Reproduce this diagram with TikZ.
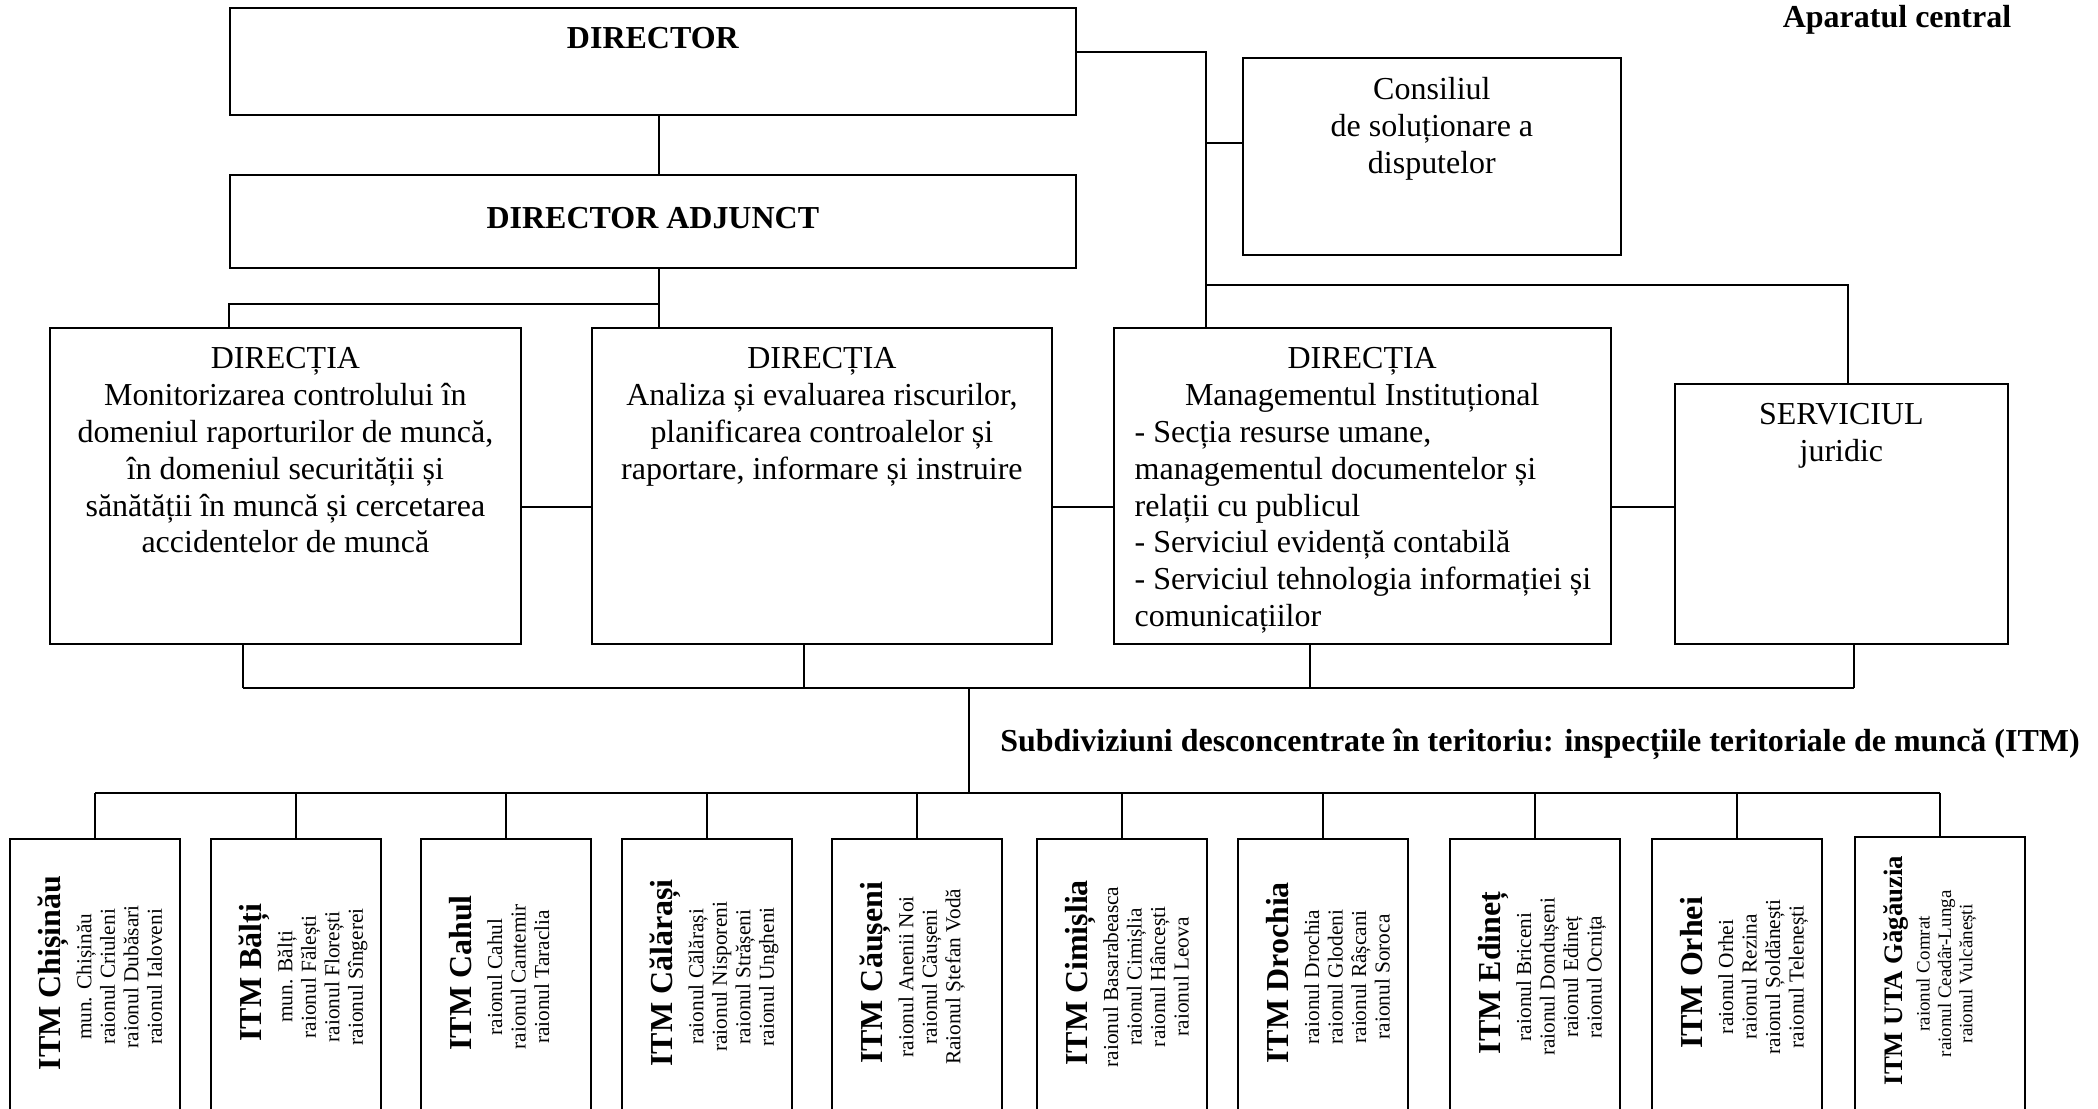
\documentclass[tikz,border=0pt]{standalone}
\usepackage{fontspec}
\setmainfont{Liberation Serif}
\usetikzlibrary{positioning}
\newcommand{\itmhead}[1]{\fontsize{#1}{#1}\selectfont\bfseries}

\begin{document}
\begin{tikzpicture}[
    box/.style={draw, line width=0.5pt, inner sep=0pt, anchor=north west},
    itm/.style={draw, line width=0.5pt, inner sep=0pt, anchor=north, minimum width=1.70cm, minimum height=2.76cm},
    txt/.style={inner sep=0pt, align=center, font=\fontsize{9.1pt}{10.47pt}\selectfont},
    head/.style={txt, font=\fontsize{9.1pt}{10.47pt}\selectfont\bfseries},
    itmtxt/.style={inner sep=0pt, align=center, rotate=90, anchor=north, font=\fontsize{6.07pt}{6.69pt}\selectfont},
    link/.style={line width=0.45pt}
]
    % Page frame
    \useasboundingbox (0,0) rectangle (20.98,-11.09);
    \clip (0,0) rectangle (20.98,-11.09);

    % Central apparatus
    \node[box, minimum width=8.46cm, minimum height=1.07cm] (dir) at (2.29,-0.07) {};
    \node[head, below=0.20cm of dir.north] (dirT) {DIRECTOR};
    \node[box, minimum width=8.46cm, minimum height=0.93cm] (adj) at (2.29,-1.74) {};
    \node[head, below=0.33cm of adj.north] (adjT) {DIRECTOR ADJUNCT};
    \node[box, minimum width=3.78cm, minimum height=1.97cm] (cons) at (12.42,-0.57) {};
    \node[txt, below=0.20cm of cons.north] (consT) {Consiliul\\de soluționare a\\disputelor};
    \node[head, anchor=north] (apc) at (18.97,-0.05) {Aparatul central};

    % Directions and service
    \node[box, minimum width=4.71cm, minimum height=3.16cm] (dmon) at (0.49,-3.27) {};
    \node[txt, below=0.20cm of dmon.north] (dmonT) {DIRECȚIA\\Monitorizarea controlului în\\domeniul raporturilor de muncă,\\în domeniul securității și\\sănătății în muncă și cercetarea\\accidentelor de muncă};
    \node[box, minimum width=4.60cm, minimum height=3.16cm] (dana) at (5.91,-3.27) {};
    \node[txt, below=0.20cm of dana.north] (danaT) {DIRECȚIA\\Analiza și evaluarea riscurilor,\\planificarea controalelor și\\raportare, informare și instruire};
    \node[box, minimum width=4.97cm, minimum height=3.16cm] (dman) at (11.13,-3.27) {};
    \node[txt, align=left, below right=0.20cm and 0.21cm of dman.north west] (dmanT) {\makebox[4.55cm][c]{DIRECȚIA}\\\makebox[4.55cm][c]{Managementul Instituțional}\\- Secția resurse umane,\\managementul documentelor și\\relații cu publicul\\- Serviciul evidență contabilă\\- Serviciul tehnologia informației și\\comunicațiilor};
    \node[box, minimum width=3.33cm, minimum height=2.60cm] (serv) at (16.74,-3.83) {};
    \node[txt, below=0.20cm of serv.north] (servT) {SERVICIUL\\juridic};

    % Junction points
    \coordinate (spine) at (6.59,0);
    \coordinate (lj) at (2.29,-3.04);
    \coordinate (rj1) at (12.06,-0.52);
    \coordinate (rj2) at (12.06,-1.43);
    \coordinate (rj3) at (12.06,-2.85);
    \coordinate (sj) at (18.48,-2.85);
    \coordinate (mid) at (0,-5.07);

    % Upper connectors
    \draw[link] (dir.south -| spine) -- (adj.north -| spine);
    \draw[link] (adj.south -| spine) -- (dana.north -| spine);
    \draw[link] (lj -| spine) -- (lj) -- (lj |- dmon.north);
    \draw[link] (dir.east |- rj1) -- (rj1) -- (rj1 |- dman.north);
    \draw[link] (rj2) -- (cons.west |- rj2);
    \draw[link] (rj3) -- (sj) -- (sj |- serv.north);
    \draw[link] (dmon.east |- mid) -- (dana.west |- mid);
    \draw[link] (dana.east |- mid) -- (dman.west |- mid);
    \draw[link] (dman.east |- mid) -- (serv.west |- mid);

    % Territorial inspections
    \node[head, anchor=north] (subd) at (15.40,-7.28) {Subdiviziuni desconcentrate în teritoriu: inspecțiile teritoriale de muncă (ITM)};

    \node[itm] (itmA) at (0.95,-8.38) {};
    \node[itmtxt] (itmAt) at ([xshift=0.285cm]itmA.west) {{\itmhead{9.1pt} ITM Chișinău}\\[2pt]mun. Chișinău\\raionul Criuleni\\raionul Dubăsari\\raionul Ialoveni};
    \node[itm] (itmB) at (2.96,-8.38) {};
    \node[itmtxt] (itmBt) at ([xshift=0.285cm]itmB.west) {{\itmhead{9.1pt} ITM Bălți}\\[2pt]mun. Bălți\\raionul Fălești\\raionul Florești\\raionul Sîngerei};
    \node[itm] (itmC) at (5.06,-8.38) {};
    \node[itmtxt] (itmCt) at ([xshift=0.285cm]itmC.west) {{\itmhead{9.1pt} ITM Cahul}\\[2pt]raionul Cahul\\raionul Cantemir\\raionul Taraclia};
    \node[itm] (itmD) at (7.07,-8.38) {};
    \node[itmtxt] (itmDt) at ([xshift=0.285cm]itmD.west) {{\itmhead{9.1pt} ITM Călărași}\\[2pt]raionul Călărași\\raionul Nisporeni\\raionul Strășeni\\raionul Ungheni};
    \node[itm] (itmE) at (9.17,-8.38) {};
    \node[itmtxt] (itmEt) at ([xshift=0.285cm]itmE.west) {{\itmhead{9.1pt} ITM Căușeni}\\[2pt]raionul Anenii Noi\\raionul Căușeni\\Raionul Ștefan Vodă};
    \node[itm] (itmF) at (11.22,-8.38) {};
    \node[itmtxt] (itmFt) at ([xshift=0.285cm]itmF.west) {{\itmhead{9.1pt} ITM Cimișlia}\\[2pt]raionul Basarabeasca\\raionul Cimișlia\\raionul Hâncești\\raionul Leova};
    \node[itm] (itmG) at (13.23,-8.38) {};
    \node[itmtxt] (itmGt) at ([xshift=0.285cm]itmG.west) {{\itmhead{9.1pt} ITM Drochia}\\[2pt]raionul Drochia\\raionul Glodeni\\raionul Râșcani\\raionul Soroca};
    \node[itm] (itmH) at (15.35,-8.38) {};
    \node[itmtxt] (itmHt) at ([xshift=0.285cm]itmH.west) {{\itmhead{9.1pt} ITM Edineț}\\[2pt]raionul Briceni\\raionul Dondușeni\\raionul Edineț\\raionul Ocnița};
    \node[itm] (itmI) at (17.37,-8.38) {};
    \node[itmtxt] (itmIt) at ([xshift=0.285cm]itmI.west) {{\itmhead{9.1pt} ITM Orhei}\\[2pt]raionul Orhei\\raionul Rezina\\raionul Șoldănești\\raionul Telenești};
    \node[itm] (itmJ) at (19.40,-8.36) {};
    \node[itmtxt, font=\fontsize{5.4pt}{6.1pt}\selectfont] (itmJt) at ([xshift=0.285cm,yshift=0.01cm]itmJ.west) {{\itmhead{7.6pt} ITM UTA Găgăuzia}\\[1.7pt]raionul Comrat\\raionul Ceadâr-Lunga\\raionul Vulcănești};

    % Lower connectors
    \coordinate (b1) at (2.43,-6.88);
    \coordinate (b2) at (8.04,-6.88);
    \coordinate (b3) at (13.10,-6.88);
    \coordinate (b4) at (18.54,-6.88);
    \coordinate (tj) at (9.69,-6.88);
    \coordinate (lb) at (9.69,-7.93);
    \draw[link] (b1 |- dmon.south) -- (b1);
    \draw[link] (b2 |- dana.south) -- (b2);
    \draw[link] (b3 |- dman.south) -- (b3);
    \draw[link] (b4 |- serv.south) -- (b4);
    \draw[link] (b1) -- (b4);
    \draw[link] (tj) -- (lb);
    \draw[link] (itmA.north |- lb) -- (itmJ.north |- lb);
    \draw[link] (itmA.north |- lb) -- (itmA.north);
    \draw[link] (itmB.north |- lb) -- (itmB.north);
    \draw[link] (itmC.north |- lb) -- (itmC.north);
    \draw[link] (itmD.north |- lb) -- (itmD.north);
    \draw[link] (itmE.north |- lb) -- (itmE.north);
    \draw[link] (itmF.north |- lb) -- (itmF.north);
    \draw[link] (itmG.north |- lb) -- (itmG.north);
    \draw[link] (itmH.north |- lb) -- (itmH.north);
    \draw[link] (itmI.north |- lb) -- (itmI.north);
    \draw[link] (itmJ.north |- lb) -- (itmJ.north);
\end{tikzpicture}
\end{document}
